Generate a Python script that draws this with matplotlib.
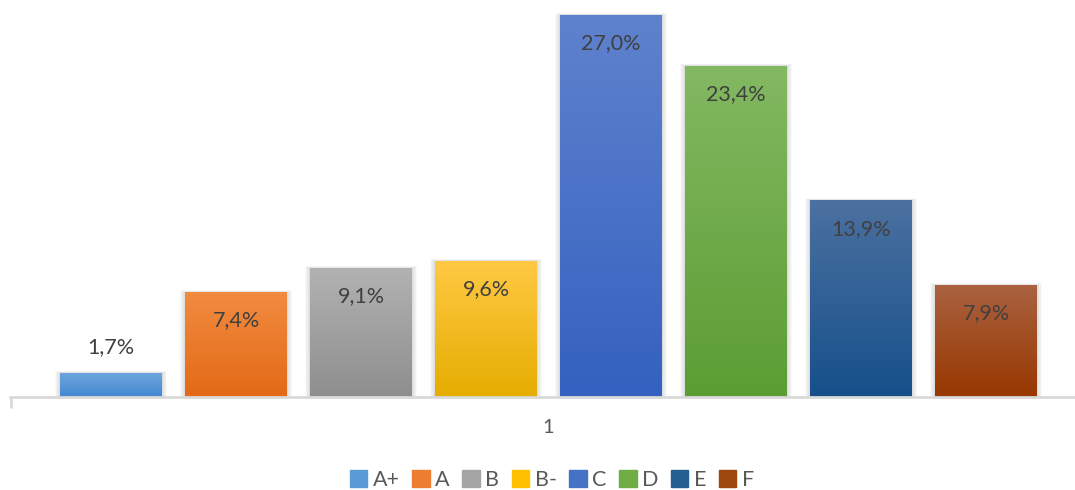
import numpy as np
import matplotlib.pyplot as plt
from matplotlib.colors import LinearSegmentedColormap
from matplotlib.patches import Rectangle

plt.rcParams['font.family'] = ['Lato', 'DejaVu Sans']

grades = ["A+", "A", "B", "B-", "C", "D", "E", "F"]
shares = [1.7, 7.4, 9.1, 9.6, 27.0, 23.4, 13.9, 7.9]
group_label = "1"

# gradient end colours per bar (top, bottom)
top_colors = ["#6fa7de", "#f18b40", "#b2b2b2", "#ffc944", "#5f82cd", "#83b962", "#4b71a0", "#aa6240"]
bottom_colors = ["#4387cf", "#e36a16", "#8e8e8e", "#e5ad00", "#3461c0", "#5c9d33", "#16508b", "#983700"]
legend_colors = ["#5b9bd5", "#ed7d31", "#a5a5a5", "#ffc000", "#4472c4", "#70ad47", "#255e91", "#9e480e"]

fig = plt.figure(figsize=(10.75, 4.9), dpi=100)
ax = fig.add_axes([10 / 1075, 93 / 490, 1076 / 1075, 396.2 / 490])

x = np.arange(len(grades))
width = 0.816
xlim = (-0.808, 7.8)
ylim = (0, 28)

bars = ax.bar(x, shares, width, color=bottom_colors, zorder=3)

for i, b in enumerate(bars):
    x0, h = b.get_x(), b.get_height()
    # soft drop shadow, built from a few faint expanding rects
    for k in np.linspace(0.01, 0.08, 7):
        ax.add_patch(Rectangle((x0 - k * 0.5, 0), width + k, h + k * 1.8,
                               color="#000000", alpha=0.018, lw=0, zorder=2))
    cmap = LinearSegmentedColormap.from_list("g%d" % i, [bottom_colors[i], top_colors[i]])
    grad = np.linspace(0, 1, 256).reshape(-1, 1)
    im = ax.imshow(grad, extent=[x0, x0 + width, 0, h], origin="lower",
                   aspect="auto", cmap=cmap, zorder=4)
    im.set_clip_path(b)

    label = ("%.1f%%" % shares[i]).replace(".", ",")
    y = h - 2.0 if h > 3 else h + 1.85
    ax.text(x0 + width / 2, y, label, ha="center", va="center",
            fontsize=15.5, color="#404040", zorder=5)

ax.set_xlim(*xlim)
ax.set_ylim(*ylim)

for s in ["top", "right", "left"]:
    ax.spines[s].set_visible(False)
ax.spines["bottom"].set_color("#d9d9d9")
ax.spines["bottom"].set_linewidth(2)
ax.spines["bottom"].set_zorder(6)
ax.set_yticks([])

ax.set_xticks([3.5])
ax.set_xticklabels([group_label], fontsize=14.5, color="#595959")
ax.tick_params(axis="x", which="major", length=0, pad=16)
ax.set_xticks([xlim[0] + 0.005], minor=True)
ax.tick_params(axis="x", which="minor", length=8, width=2, color="#d9d9d9")

handles = [Rectangle((0, 0), 1, 1, color=c) for c in legend_colors]
fig.legend(handles, grades, loc="center", bbox_to_anchor=(552 / 1075, 1 - 480 / 490),
           ncol=8, frameon=False, fontsize=15.5, labelcolor="#595959",
           handlelength=0.8, handleheight=0.8, handletextpad=0.25, columnspacing=0.6)

fig.savefig("out.png", dpi=100)
